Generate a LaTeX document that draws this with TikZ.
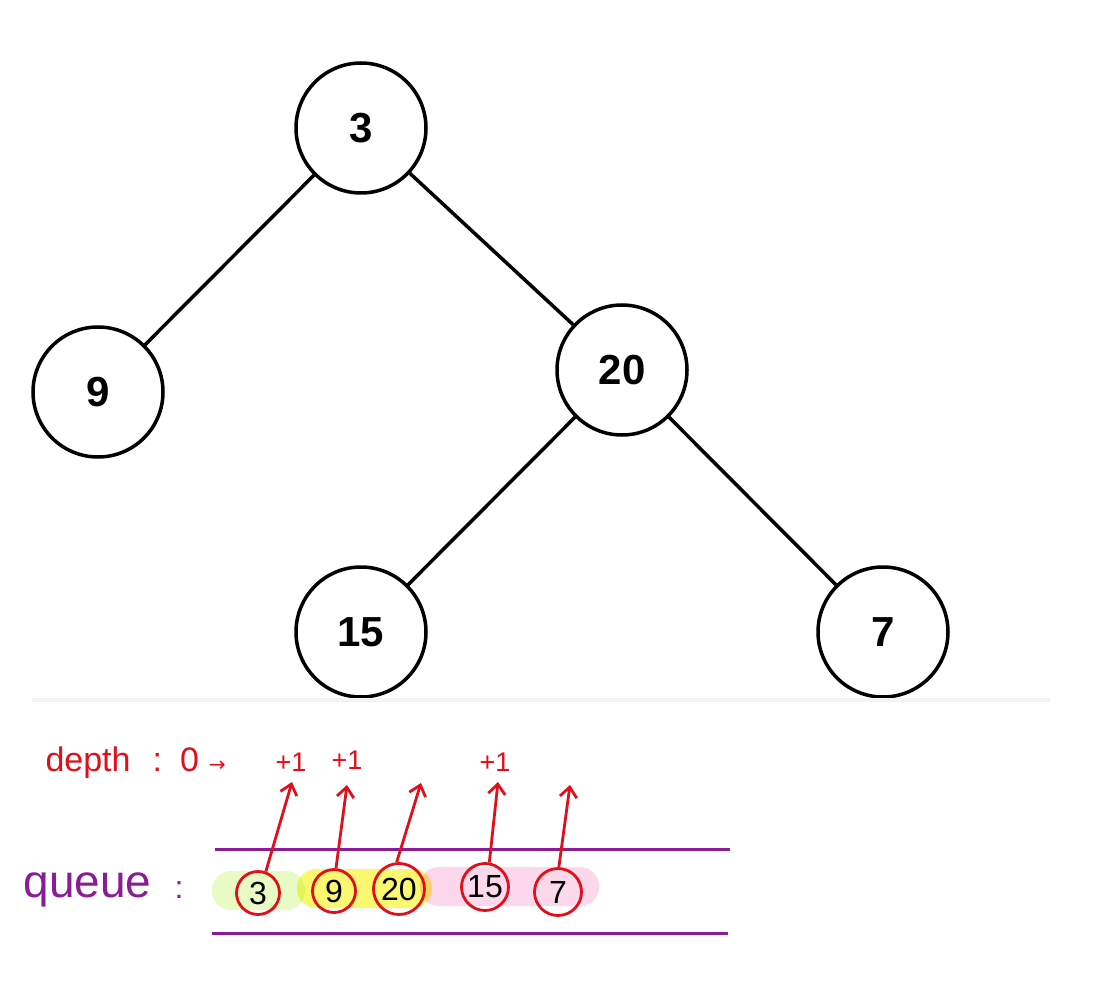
\documentclass[tikz,border=0pt]{standalone}
\usepackage{fontspec}
\setmainfont{Liberation Sans}
\newfontfamily\arrowfont{DejaVu Sans}
\usetikzlibrary{arrows.meta}
\definecolor{qpurple}{HTML}{8A1C96}
\definecolor{hred}{HTML}{E0101A}
\definecolor{hgreen}{HTML}{E8FBC4}
\definecolor{hyellow}{HTML}{FAF870}
\definecolor{hpink}{HTML}{FCD8EC}
\definecolor{sepgray}{HTML}{F3F3F3}
\begin{document}
\begin{tikzpicture}[x=1pt,y=-1pt,
  treenode/.style={circle,draw=black,line width=3.5pt,minimum size=130pt,inner sep=0pt,fill=white,
    font=\bfseries\fontsize{42}{42}\selectfont},
  treeedge/.style={line width=3.5pt,black},
  qitem/.style={circle,draw=hred,line width=2.8pt,inner sep=0pt,font=\fontsize{32}{32}\selectfont},
  uparrow/.style={hred,line width=2.8pt,-{Straight Barb[length=10pt,width=17pt]}},
  redtext/.style={text=hred,font=\fontsize{34}{34}\selectfont},
  plusone/.style={text=hred,font=\fontsize{27}{27}\selectfont},
  hl/.style={rounded corners=19pt}
]
\useasboundingbox (0,0) rectangle (1095,1000);
\fill[white] (0,0) rectangle (1095,1000);

% tree (clipped like the screenshot)
\begin{scope}
\clip (0,0) rectangle (950,697);
\node[treenode] (n3) at (361,128) {3};
\node[treenode] (n9) at (98,392) {9};
\node[treenode] (n20) at (622,370) {20};
\node[treenode] (n15) at (361,632) {15};
\node[treenode] (n7) at (883,632) {7};
\draw[treeedge] (n3) -- (n9);
\draw[treeedge] (n3) -- (n20);
\draw[treeedge] (n20) -- (n15);
\draw[treeedge] (n20) -- (n7);
\end{scope}
\fill[sepgray] (32,698) rectangle (1050,702);

% depth label
\node[redtext,anchor=west] (depth) at (42,763) {depth\hspace{22pt}:\hspace{18pt}0\hspace{10pt}{\arrowfont\fontsize{20}{20}\selectfont →}};
\node[plusone] (p1) at (291,762) {+1};
\node[plusone] (p2) at (347,760) {+1};
\node[plusone] (p3) at (495,762) {+1};

% queue
\node[text=qpurple,anchor=west,font=\fontsize{46}{46}\selectfont] (qlabel) at (20,890) {queue};
\node[text=qpurple,font=\fontsize{32}{32}\selectfont] (qcolon) at (179,890) {:};
\coordinate (qtl) at (215,849);
\coordinate (qtr) at (730,849);
\coordinate (qbl) at (212,933);
\coordinate (qbr) at (728,933);
\draw[qpurple,line width=3pt] (qtl) -- (qtr);
\draw[qpurple,line width=3pt] (qbl) -- (qbr);

\begin{scope}[blend mode=multiply]
\fill[hgreen,hl] (212,871) rectangle (305,910);
\fill[hyellow,hl] (297,869) rectangle (432,908);
\fill[hpink,hl] (420,867) rectangle (599,906);
\end{scope}

\node[qitem,minimum size=43pt] (q3) at (258,893) {3};
\node[qitem,minimum size=43pt] (q9) at (334,891) {9};
\node[qitem,minimum size=51pt] (q20) at (399,889) {20};
\node[qitem,minimum size=47pt] (q15) at (485,887) {15};
\node[qitem,minimum size=47pt] (q7) at (558,892) {7};

\coordinate (a3) at (292,782);
\coordinate (a9) at (347,785);
\coordinate (a20) at (421,783);
\coordinate (a15) at (498,782);
\coordinate (a7) at (570,785);
\draw[uparrow] (q3.70) -- (a3);
\draw[uparrow] (q9.85) -- (a9);
\draw[uparrow] (q20.95) -- (a20);
\draw[uparrow] (q15.80) -- (a15);
\draw[uparrow] (q7.88) -- (a7);
\end{tikzpicture}
\end{document}
